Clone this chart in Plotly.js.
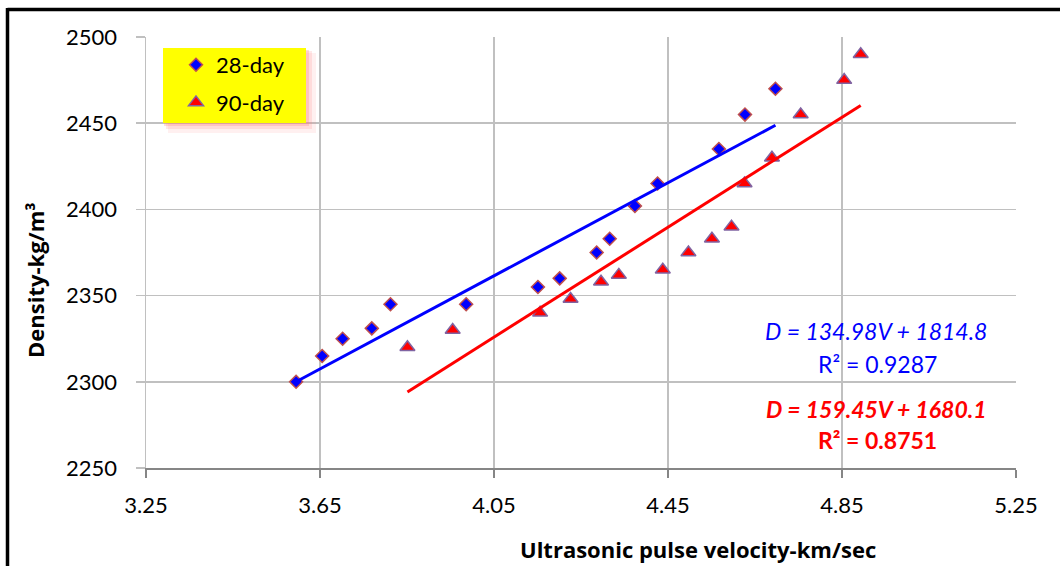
<!DOCTYPE html>
<html>
<head>
<meta charset="utf-8">
<script src="https://cdn.plot.ly/plotly-3.0.1.min.js"></script>
<style>html,body{margin:0;padding:0;background:#fff;}#chart{width:1060px;height:566px;}</style>
</head>
<body>
<div id="chart"></div>
<script>
// ---- data ----
const seriesNames = ["28-day", "90-day"];
const v28 = [3.595, 3.655, 3.702, 3.769, 3.812, 3.986, 4.151, 4.201, 4.286, 4.316, 4.374, 4.426, 4.567, 4.627, 4.697];
const d28 = [2300, 2315, 2325, 2331, 2345, 2345, 2355, 2360, 2375, 2383, 2402, 2415, 2435, 2455, 2470];
const v90 = [3.851, 3.955, 4.156, 4.226, 4.296, 4.337, 4.438, 4.497, 4.551, 4.596, 4.626, 4.689, 4.755, 4.855, 4.893];
const d90 = [2320, 2330, 2340, 2348, 2358, 2362, 2365, 2375, 2383, 2390, 2415, 2430, 2455, 2475, 2490];
const slope28 = 134.98, intercept28 = 1814.8, r2_28 = 0.9287;
const slope90 = 159.45, intercept90 = 1680.1, r2_90 = 0.8751;
const xTicks = [3.25, 3.65, 4.05, 4.45, 4.85, 5.25];
const yTicks = [2250, 2300, 2350, 2400, 2450, 2500];
const xTitle = "Ultrasonic pulse velocity-km/sec";
const yTitle = "Density-kg/m³";

// ---- geometry helpers (pixel -> paper) ----
const W = 1060, H = 566;
const M = {l: 146, r: 44, t: 37, b: 98};
const PW = W - M.l - M.r, PH = H - M.t - M.b;
const px = x => (x - M.l) / PW;
const py = y => (H - M.b - y) / PH;

function trend(vs, m, c) {
  const lo = Math.min(...vs), hi = Math.max(...vs);
  return {x: [lo, hi], y: [m * lo + c, m * hi + c]};
}
const t28 = trend(v28, slope28, intercept28);
const t90 = trend(v90, slope90, intercept90);

const FONT = "Lato, 'Open Sans', sans-serif";
const BFONT = "'Open Sans', Lato, sans-serif";

const traces = [
  {x: v28, y: d28, name: seriesNames[0], legendgroup: "a", type: "scatter", mode: "markers",
   marker: {symbol: "diamond", size: 10, color: "#0000ff", line: {color: "#c0504d", width: 1.5}}},
  {x: v90, y: d90, name: seriesNames[1], legendgroup: "b", type: "scatter", mode: "markers",
   marker: {symbol: "triangle-up", size: 13, color: "#ff0000", line: {color: "#8064a2", width: 1.5}}},
  {x: t28.x, y: t28.y, type: "scatter", mode: "lines", showlegend: false, hoverinfo: "skip",
   line: {color: "#0000ff", width: 3}},
  {x: t90.x, y: t90.y, type: "scatter", mode: "lines", showlegend: false, hoverinfo: "skip",
   line: {color: "#ff0000", width: 3}}
];

const fmt = (m, c) => "D = " + m.toFixed(2) + "V + " + c.toFixed(1);
const ann = (x, y, text, font, extra) => Object.assign({xref: "paper", yref: "paper", x: px(x), y: py(y),
  xanchor: "center", yanchor: "middle", text: text, showarrow: false, font: font}, extra || {});

const layout = {
  width: W, height: H,
  margin: M,
  paper_bgcolor: "#ffffff", plot_bgcolor: "#ffffff",
  font: {family: FONT, size: 22, color: "#000"},
  showlegend: true,
  legend: {x: px(176), y: py(44), xanchor: "left", yanchor: "top",
           bgcolor: "rgba(0,0,0,0)", borderwidth: 0, font: {family: FONT, size: 22, color: "#000"},
           itemwidth: 30, tracegroupgap: 6},
  xaxis: {range: [3.25, 5.25], tickvals: xTicks, ticktext: xTicks.map(v => v.toFixed(2)),
          showgrid: true, gridcolor: "#c0c0c0", gridwidth: 1.5,
          showline: true, linecolor: "#868686", linewidth: 1.5,
          ticks: "outside", ticklen: 8, tickcolor: "#868686", tickwidth: 1.5,
          ticklabelstandoff: 9, zeroline: false,
          tickfont: {family: FONT, size: 22, color: "#000"}},
  yaxis: {range: [2250, 2500], tickvals: yTicks,
          showgrid: true, gridcolor: "#c0c0c0", gridwidth: 1.5,
          showline: true, linecolor: "#c0c0c0", linewidth: 1.5,
          ticks: "outside", ticklen: 9, tickcolor: "#c0c0c0", tickwidth: 1.5,
          ticklabelstandoff: 14, zeroline: false,
          tickfont: {family: FONT, size: 22, color: "#000"}},
  shapes: [
    // legend glow + box
    {type: "rect", xref: "paper", yref: "paper", x0: px(168), x1: px(316), y0: py(53), y1: py(133),
     fillcolor: "rgba(255,130,130,0.12)", line: {width: 0}, layer: "above"},
    {type: "rect", xref: "paper", yref: "paper", x0: px(166), x1: px(312), y0: py(51), y1: py(129),
     fillcolor: "rgba(255,130,130,0.18)", line: {width: 0}, layer: "above"},
    {type: "rect", xref: "paper", yref: "paper", x0: px(164), x1: px(309), y0: py(50), y1: py(126),
     fillcolor: "rgba(255,120,120,0.25)", line: {width: 0}, layer: "above"},
    {type: "rect", xref: "paper", yref: "paper", x0: px(163), x1: px(306), y0: py(48), y1: py(123),
     fillcolor: "#ffff00", line: {width: 0}, layer: "above"},
    // outer frame
    {type: "line", xref: "paper", yref: "paper", x0: px(7.5), x1: px(1062), y0: py(9.5), y1: py(9.5),
     line: {color: "#000", width: 3.5}},
    {type: "line", xref: "paper", yref: "paper", x0: px(7.5), x1: px(7.5), y0: py(8), y1: py(570),
     line: {color: "#000", width: 3.5}}
  ],
  annotations: [
    ann(35, 280, "<b>" + yTitle + "</b>", {family: BFONT, size: 22, color: "#000"}, {textangle: -90}),
    ann(698, 549, "<b>" + xTitle + "</b>", {family: BFONT, size: 22, color: "#000"}),
    ann(876, 331, "<i>" + fmt(slope28, intercept28) + "</i>", {family: FONT, size: 23, color: "#0000ff"}),
    ann(877, 364, "R² = " + r2_28.toFixed(4), {family: FONT, size: 23, color: "#0000ff"}),
    ann(876, 409, "<b><i>" + fmt(slope90, intercept90) + "</i></b>", {family: FONT, size: 23, color: "#ff0000"}),
    ann(877, 440, "<b>R² = " + r2_90.toFixed(4) + "</b>", {family: FONT, size: 23, color: "#ff0000"})
  ]
};

Plotly.newPlot("chart", traces, layout, {displayModeBar: false, staticPlot: true});
</script>
</body>
</html>
